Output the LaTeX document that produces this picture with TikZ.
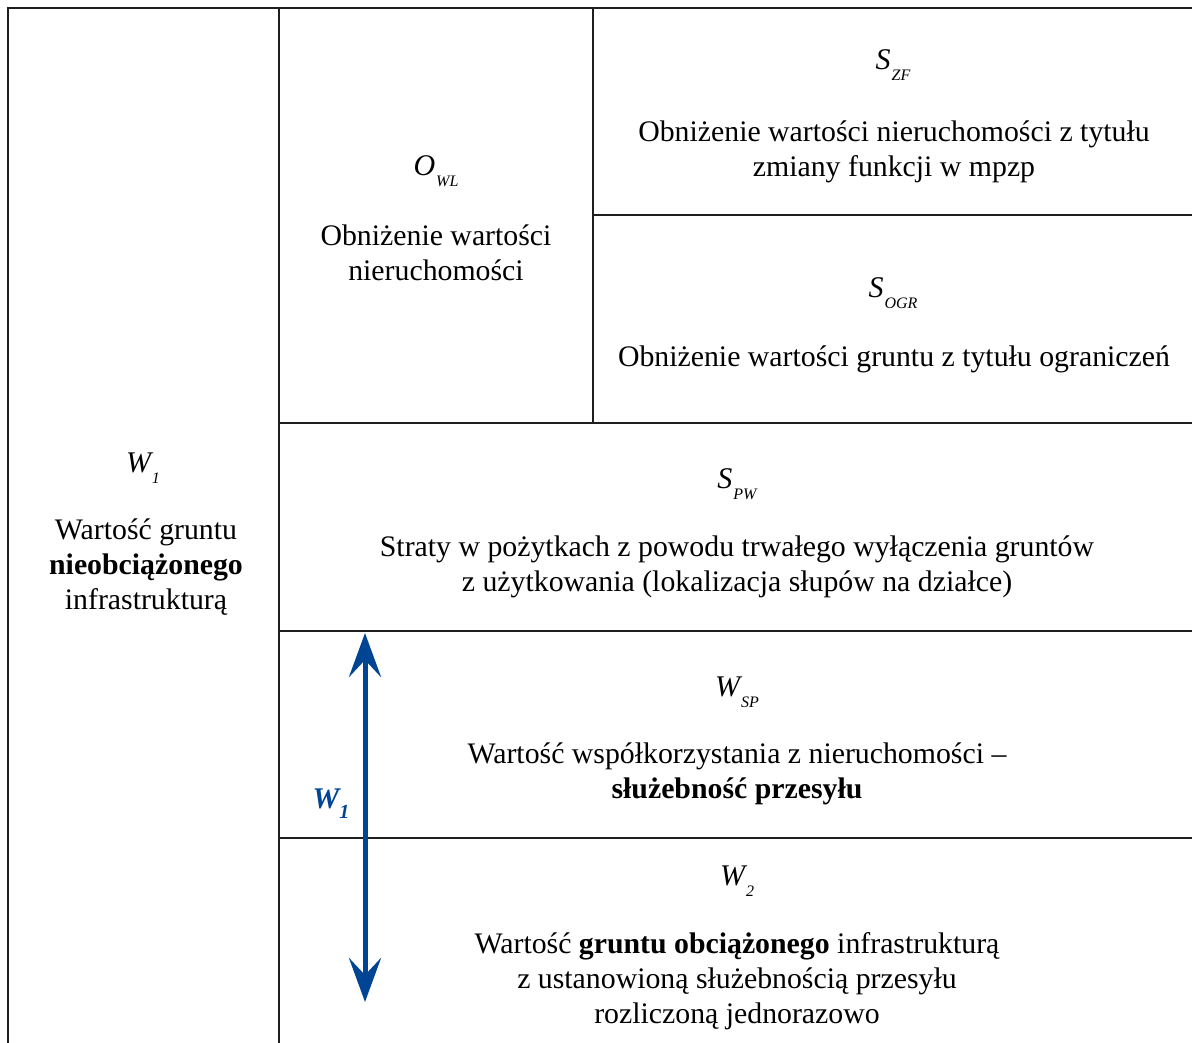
\documentclass[tikz,border=0pt]{standalone}
\usepackage{fontspec}
\setmainfont{Liberation Serif}
\usetikzlibrary{arrows.meta}
\definecolor{arrowblue}{RGB}{0,68,148}
\definecolor{gridline}{RGB}{30,30,30}
\newcommand{\symb}[2]{{\fontsize{30}{30}\selectfont\itshape #1\hspace{1pt}\raisebox{-11pt}{\fontsize{16}{16}\selectfont #2}}}
\begin{document}
\begin{tikzpicture}[x=1pt,y=-1pt,
  gridl/.style={draw=gridline,line width=2pt},
  body/.style={align=center,font=\fontsize{29.8}{35}\selectfont,inner sep=0pt},
  sym/.style={inner sep=0pt,anchor=base}]
\useasboundingbox (0,0) rectangle (1192,1043);
% grid
\draw[gridl] (8,1043) -- (8,8) -- (1192,8);
\draw[gridl] (279,8) -- (279,1043);
\draw[gridl] (593,8) -- (593,423);
\draw[gridl] (593,215) -- (1192,215);
\draw[gridl] (279,423) -- (1192,423);
\draw[gridl] (279,631) -- (1192,631);
\draw[gridl] (279,838) -- (1192,838);
% left column
\node[sym] (w1s) at (143,472) {\symb{W}{1}};
\node[body] (w1t) at (146,567) {Wartość gruntu\\\textbf{nieobciążonego}\\infrastrukturą};
% O_WL
\node[sym] (owls) at (436,176) {\symb{O}{WL}};
\node[body] (owlt) at (436,253) {Obniżenie wartości\\nieruchomości};
% S_ZF
\node[sym] (szfs) at (893,70) {\symb{S}{ZF}};
\node[body] (szft) at (894,152) {Obniżenie wartości nieruchomości z tytułu\\zmiany funkcji w mpzp};
% S_OGR
\node[sym] (sogrs) at (893,298) {\symb{S}{OGR}};
\node[body] (sogrt) at (894,359) {Obniżenie wartości gruntu z tytułu ograniczeń};
% S_PW
\node[sym] (spws) at (737,488) {\symb{S}{PW}};
\node[body] (spwt) at (737,567) {Straty w pożytkach z powodu trwałego wyłączenia gruntów\\z użytkowania (lokalizacja słupów na działce)};
% W_SP
\node[sym] (wsps) at (737,696) {\symb{W}{SP}};
\node[body] (wspt) at (737,774) {Wartość współkorzystania z nieruchomości –\\\textbf{służebność przesyłu}};
% W_2
\node[sym] (w2s) at (737,885) {\symb{W}{2}};
\node[body] (w2t) at (737,981) {Wartość \textbf{gruntu obciążonego} infrastrukturą\\z ustanowioną służebnością przesyłu\\rozliczoną jednorazowo};
% arrow
\coordinate (atop) at (365,633);
\coordinate (abot) at (365,1002);
\draw[arrowblue,line width=5pt,{Stealth[length=44pt,width=32pt,inset=17pt]}-{Stealth[length=44pt,width=32pt,inset=17pt]}] (atop) -- (abot);
\node[inner sep=0pt,anchor=base,text=arrowblue] (w1lab) at (331,808) {\fontsize{30}{30}\selectfont\bfseries\itshape W\raisebox{-10pt}{\fontsize{20}{20}\selectfont 1}};
\end{tikzpicture}
\end{document}
